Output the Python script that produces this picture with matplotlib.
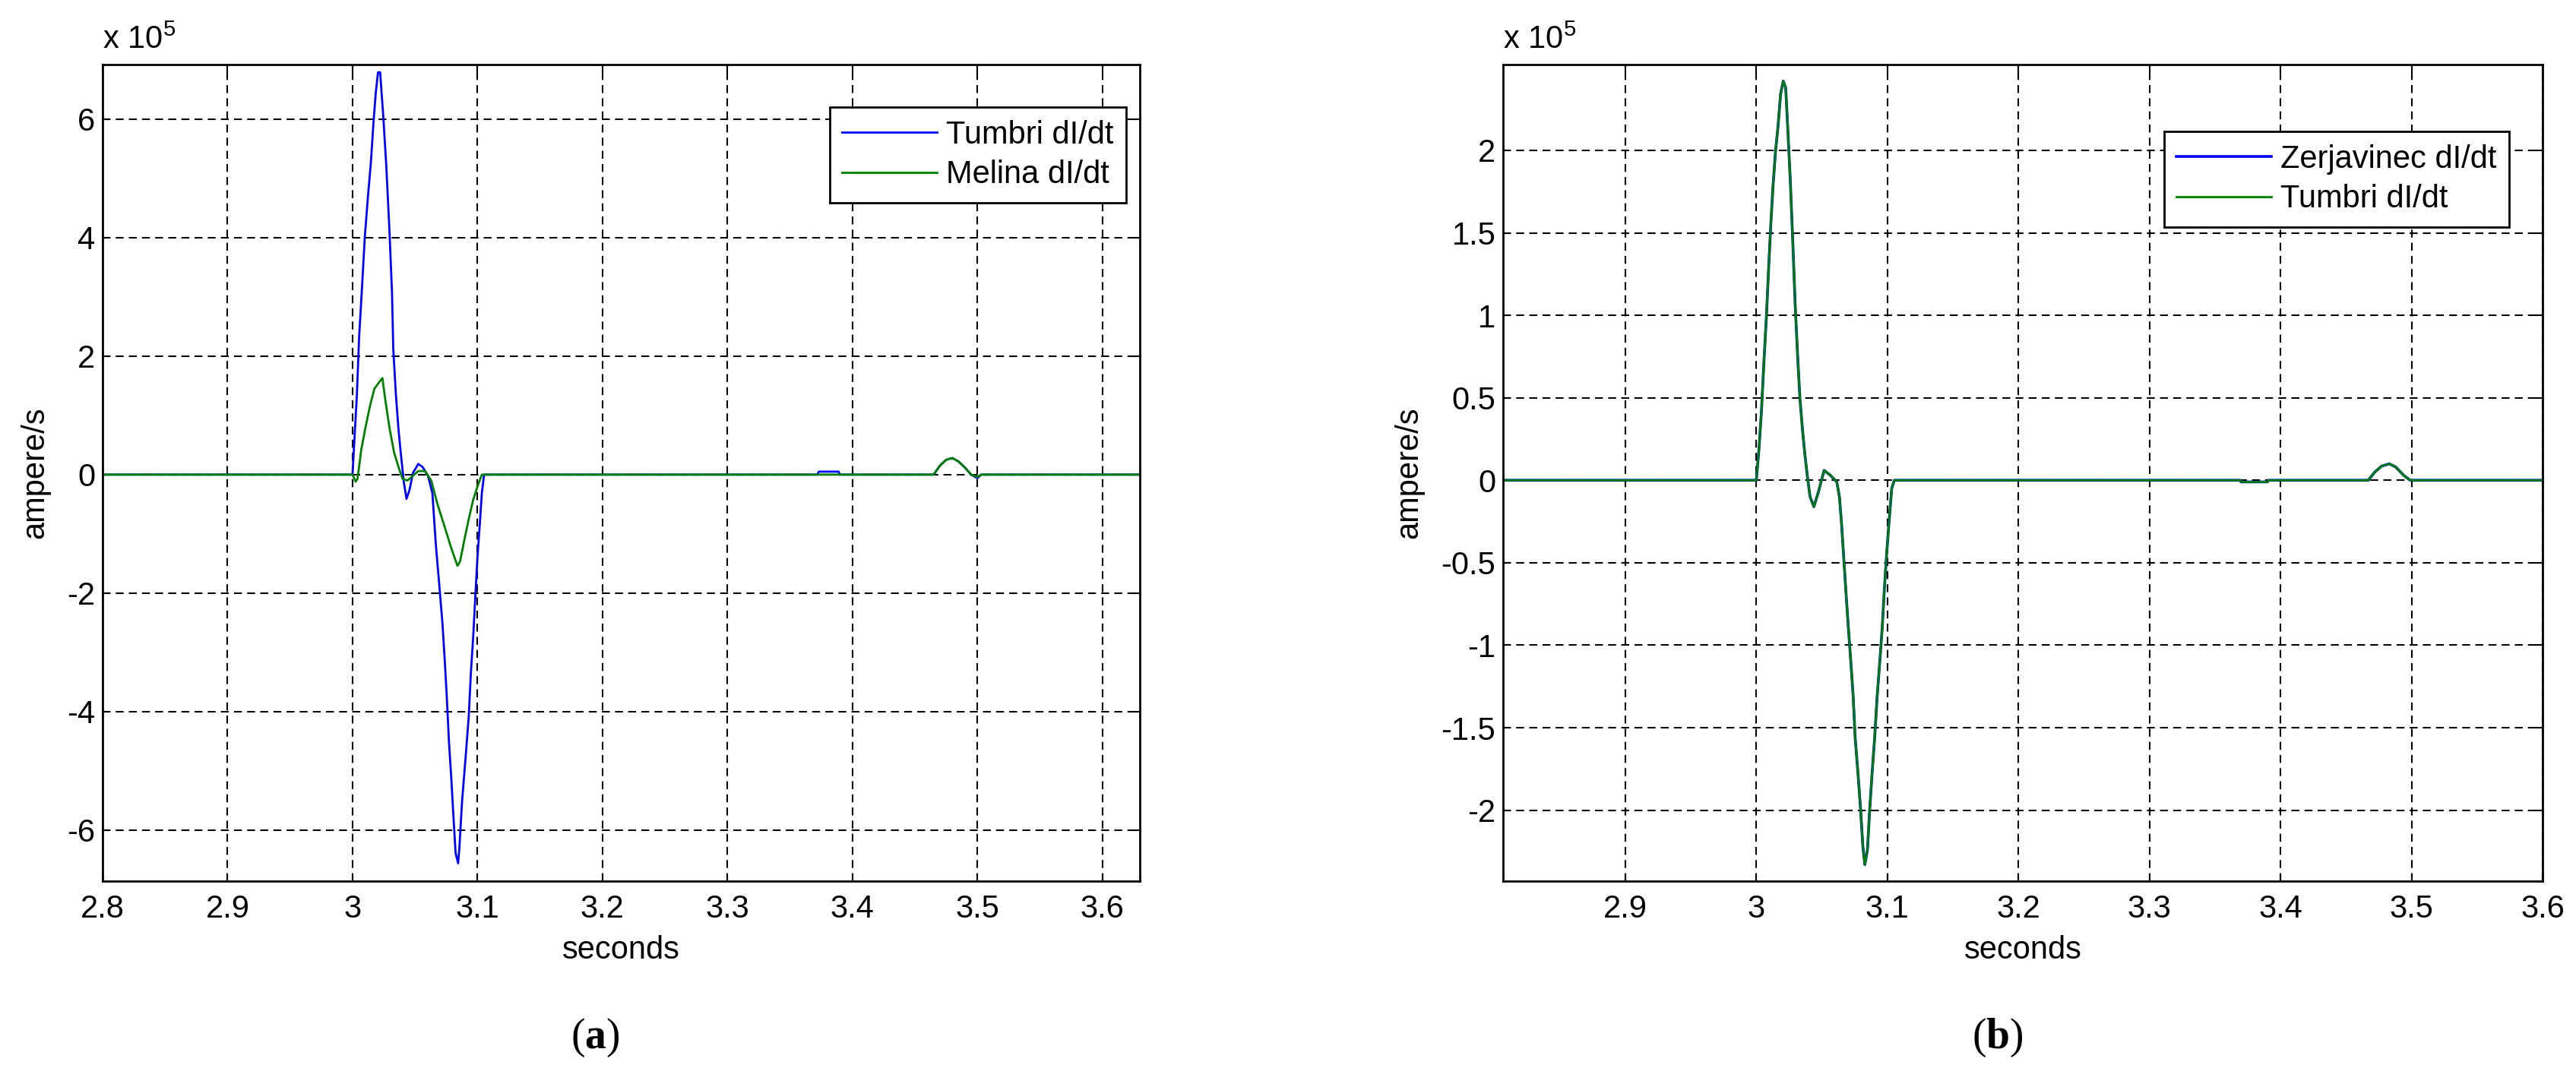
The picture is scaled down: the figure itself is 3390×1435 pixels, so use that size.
import matplotlib
matplotlib.use("Agg")
import matplotlib.pyplot as plt

plt.rcParams["font.family"] = ["Liberation Sans", "DejaVu Sans"]
plt.rcParams["axes.unicode_minus"] = False
plt.rcParams["mathtext.fontset"] = "custom"
plt.rcParams["mathtext.rm"] = "Liberation Sans"
plt.rcParams["mathtext.bf"] = "Liberation Serif:bold"

# values in units of 1e5 ampere/s
tumbri_a_t = [2.8, 3.0, 3.0018, 3.0035, 3.0053, 3.0077, 3.0098, 3.0123, 3.0147, 3.0168,
              3.0186, 3.0204, 3.0221, 3.0246, 3.027, 3.0295, 3.0316, 3.0326, 3.0347,
              3.0368, 3.0386, 3.041, 3.0432, 3.0456, 3.0484, 3.0526, 3.056, 3.0604,
              3.0639, 3.0667, 3.0695, 3.072, 3.0737, 3.0754, 3.0772, 3.079, 3.0807,
              3.0825, 3.0845, 3.0855, 3.0877, 3.0905, 3.093, 3.0947, 3.0965, 3.0982,
              3.1, 3.1018, 3.1035, 3.1053, 3.372, 3.373, 3.389, 3.39, 3.465, 3.47,
              3.475, 3.48, 3.485, 3.49, 3.495, 3.5, 3.503, 3.63]
tumbri_a_v = [0, 0, 0.7, 1.35, 2.33, 3.2, 4.0, 4.68, 5.27, 5.95,
              6.44, 6.79, 6.79, 6.05, 5.22, 4.14, 3.07, 2.13, 1.35,
              0.76, 0.37, -0.12, -0.41, -0.26, 0.03, 0.18, 0.13, -0.02,
              -0.31, -1.19, -1.88, -2.52, -3.1, -3.74, -4.52, -5.11, -5.75,
              -6.39, -6.56, -6.3, -5.5, -4.77, -4.08, -3.35, -2.76, -2.08,
              -1.39, -0.85, -0.31, 0, 0, 0.05, 0.05, 0, 0, 0.15,
              0.25, 0.28, 0.22, 0.12, 0.0, -0.06, 0, 0]

melina_t = [2.8, 3.0, 3.0025, 3.004, 3.007, 3.0105, 3.014, 3.0175, 3.021, 3.0239,
            3.0263, 3.0298, 3.0333, 3.0368, 3.04, 3.0439, 3.0484, 3.0526, 3.058,
            3.063, 3.068, 3.074, 3.079, 3.084, 3.086, 3.0895, 3.093, 3.0965, 3.1,
            3.1035, 3.465, 3.47, 3.475, 3.48, 3.485, 3.49, 3.495, 3.5, 3.503, 3.63]
melina_v = [0, 0, -0.12, -0.07, 0.42, 0.81, 1.16, 1.45, 1.55, 1.63,
            1.25, 0.76, 0.37, 0.13, -0.07, -0.1, -0.02, 0.06, 0.06,
            -0.1, -0.5, -0.9, -1.24, -1.54, -1.47, -1.1, -0.75, -0.43, -0.2,
            0, 0, 0.15, 0.25, 0.28, 0.22, 0.12, 0.0, -0.04, 0, 0]

tumbri_b_t = [2.8, 3.0, 3.002, 3.0039, 3.0058, 3.0078, 3.0094, 3.0111, 3.0127, 3.0146,
              3.0166, 3.0185, 3.0205, 3.0224, 3.024, 3.0259, 3.0279, 3.0296, 3.0316,
              3.0333, 3.0353, 3.037, 3.039, 3.041, 3.0439, 3.0474, 3.0517, 3.0565,
              3.0614, 3.0634, 3.065, 3.0667, 3.0684, 3.0702, 3.0721, 3.0739, 3.0754,
              3.0776, 3.0795, 3.0813, 3.0828, 3.0848, 3.0864, 3.0883, 3.0903, 3.0922,
              3.0942, 3.0961, 3.0977, 3.0994, 3.1014, 3.1033, 3.1053, 3.369, 3.37,
              3.39, 3.391, 3.467, 3.472, 3.477, 3.483, 3.488, 3.494, 3.499, 3.6]
tumbri_b_v = [0, 0, 0.19, 0.42, 0.72, 1.01, 1.29, 1.56, 1.78, 1.99,
              2.15, 2.34, 2.42, 2.38, 2.13, 1.82, 1.43, 1.07, 0.74,
              0.49, 0.3, 0.16, 0.02, -0.1, -0.16, -0.07, 0.06, 0.03,
              -0.01, -0.1, -0.26, -0.47, -0.68, -0.89, -1.1, -1.31, -1.56,
              -1.78, -1.99, -2.22, -2.33, -2.24, -2.01, -1.78, -1.56, -1.31,
              -1.1, -0.89, -0.66, -0.45, -0.24, -0.05, 0, 0, -0.01,
              -0.01, 0, 0, 0.05, 0.085, 0.1, 0.08, 0.03, 0, 0]

# Zerjavinec overlaps Tumbri almost exactly in panel (b)
zerjavinec_t = list(tumbri_b_t)
zerjavinec_v = list(tumbri_b_v)

BLUE = (0, 0, 1)
GREEN = (0, 0.5, 0)
FS = 30
W, H = 3390, 1435


def style_axes(ax, xlim, ylim, xticks, yticks):
    ax.set_xlim(*xlim)
    ax.set_ylim(*ylim)
    ax.set_xticks(xticks)
    ax.set_xticklabels([f"{v:g}" for v in xticks])
    ax.set_yticks(yticks)
    ax.set_yticklabels([f"{v:g}" for v in yticks])
    ax.tick_params(direction="in", length=7, width=1.5, labelsize=FS,
                   top=True, right=True)
    ax.tick_params(axis="x", pad=12)
    ax.tick_params(axis="y", pad=7)
    for s in ax.spines.values():
        s.set_linewidth(2)
    ax.grid(True, color="black", linestyle=(0, (5, 3.3)), linewidth=1.5)
    ax.set_axisbelow(True)
    ax.set_xlabel("seconds", fontsize=FS, labelpad=10)
    ax.set_ylabel("ampere/s", fontsize=FS, labelpad=16)
    ax.text(0.0, 1.0195, r"x 10$^{5}$", transform=ax.transAxes, fontsize=FS,
            ha="left", va="baseline")


def add_legend(ax, right_px, top_px):
    leg = ax.legend(loc="upper right", bbox_to_anchor=(right_px / W, 1 - top_px / H),
                    bbox_transform=ax.figure.transFigure, borderaxespad=0,
                    fontsize=FS, frameon=True, fancybox=False, edgecolor="black",
                    framealpha=1, handlelength=3.0, handletextpad=0.28,
                    borderpad=0.4, labelspacing=0.3)
    leg.get_frame().set_linewidth(2)


fig = plt.figure(figsize=(W / 100, H / 100), dpi=100)
ax1 = fig.add_axes([135 / W, (H - 1160) / H, (1500 - 135) / W, 1075 / H])
ax2 = fig.add_axes([1978 / W, (H - 1160) / H, (3346 - 1978) / W, 1075 / H])

ax1.plot(tumbri_a_t, tumbri_a_v, color=BLUE, lw=2, label="Tumbri dI/dt")
ax1.plot(melina_t, melina_v, color=GREEN, lw=2, label="Melina dI/dt")
style_axes(ax1, (2.8, 3.63), (-6.86, 6.92),
           [2.8, 2.9, 3.0, 3.1, 3.2, 3.3, 3.4, 3.5, 3.6], [-6, -4, -2, 0, 2, 4, 6])
add_legend(ax1, 1482, 141)

ax2.plot(zerjavinec_t, zerjavinec_v, color=BLUE, lw=2.6, label="Zerjavinec dI/dt")
ax2.plot(tumbri_b_t, tumbri_b_v, color=GREEN, lw=2, label="Tumbri dI/dt")
style_axes(ax2, (2.8067, 3.6), (-2.43, 2.52),
           [2.9, 3.0, 3.1, 3.2, 3.3, 3.4, 3.5, 3.6],
           [-2, -1.5, -1, -0.5, 0, 0.5, 1, 1.5, 2])
add_legend(ax2, 3302, 173)

fig.text(783 / W, 1 - 1366 / H, r"($\mathbf{a}$)", fontsize=40,
         family="Liberation Serif", ha="center", va="center")
fig.text(2629 / W, 1 - 1366 / H, r"($\mathbf{b}$)", fontsize=40,
         family="Liberation Serif", ha="center", va="center")

fig.savefig("out.png", dpi=100)
